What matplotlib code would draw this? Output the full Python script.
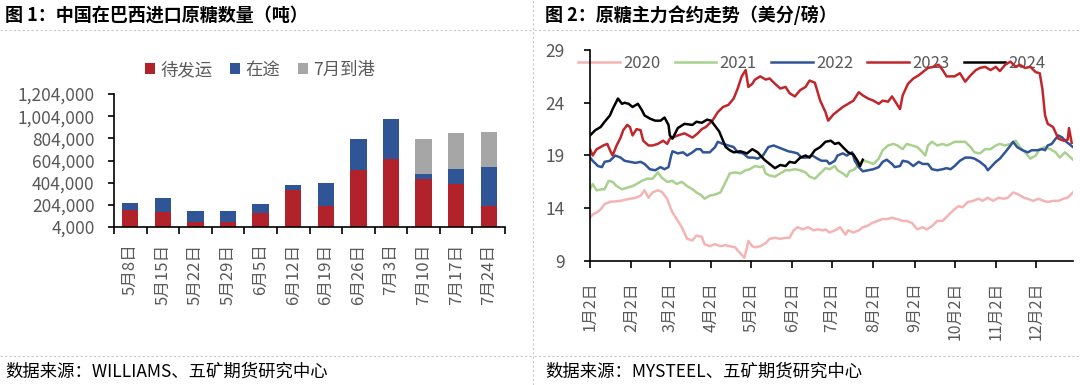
import numpy as np
import matplotlib
matplotlib.use('Agg')
import matplotlib.pyplot as plt
from matplotlib.lines import Line2D
from matplotlib.ticker import FuncFormatter

plt.rcParams['font.family'] = ['Noto Sans CJK SC', 'DejaVu Sans']

# 图1：中国在巴西进口原糖数量（吨）
weeks = ['5月8日', '5月15日', '5月22日', '5月29日', '6月5日', '6月12日',
         '6月19日', '6月26日', '7月3日', '7月10日', '7月17日', '7月24日']
pending = [155000, 137000, 52000, 52000, 128000, 336000,
           197000, 518000, 617000, 436000, 391000, 197000]   # 待发运
transit = [70000, 127000, 100000, 100000, 87000, 46000,
           203000, 281000, 357000, 45000, 136000, 348000]    # 在途
arrive_jul = [0, 0, 0, 0, 0, 0, 0, 0, 0, 318000, 329000, 320000]  # 7月到港

# 图2：原糖主力合约走势（美分/磅），横轴为距1月2日的天数
month_ticks = [0, 31, 60, 91, 121, 152, 182, 213, 244, 274, 305, 335]
month_labels = ['1月2日', '2月2日', '3月2日', '4月2日', '5月2日', '6月2日',
                '7月2日', '8月2日', '9月2日', '10月2日', '11月2日', '12月2日']

days_2020 = [0, 2, 5, 8, 11, 15, 19, 23, 26, 30,
             34, 38, 41, 44, 47, 51, 54, 58, 60, 62,
             65, 69, 73, 77, 80, 84, 86, 90, 94, 98,
             102, 105, 109, 111, 114, 116, 118, 119, 122, 124,
             128, 132, 135, 139, 143, 147, 150, 153, 156, 160,
             164, 168, 171, 175, 177, 180, 184, 188, 192, 194,
             198, 202, 205, 208, 212, 216, 220, 223, 227, 231,
             235, 238, 242, 246, 250, 253, 257, 261, 265, 269,
             273, 277, 280, 284, 288, 292, 295, 299, 303, 307,
             311, 314, 318, 322, 326, 329, 333, 337, 341, 344,
             348, 352, 356, 359, 363]
price_2020 = [13.1, 13.4, 13.6, 13.9, 14.4, 14.6, 14.65, 14.7, 14.8, 14.9,
              14.97, 15.2, 15.7, 15.0, 15.5, 15.7, 15.55, 14.9, 14.2, 13.6,
              13.0, 12.2, 11.1, 10.95, 11.4, 11.3, 10.6, 10.4, 10.6, 10.4,
              10.5, 10.4, 10.3, 10.0, 9.6, 9.3, 10.3, 10.9, 10.4, 10.3,
              10.4, 10.7, 11.1, 11.2, 11.1, 11.2, 11.2, 11.9, 12.2, 12.0,
              12.2, 11.9, 12.0, 11.9, 12.0, 11.7, 11.9, 12.2, 11.5, 11.9,
              11.7, 11.9, 12.2, 12.3, 12.6, 12.8, 12.97, 12.97, 13.1, 12.97,
              12.8, 12.8, 12.6, 12.0, 12.2, 12.0, 12.3, 12.8, 12.8, 13.3,
              13.8, 14.2, 14.1, 14.6, 14.7, 14.9, 14.7, 15.0, 14.7, 15.0,
              14.9, 15.0, 15.5, 15.3, 15.0, 14.9, 14.7, 14.9, 14.7, 14.6,
              14.7, 14.7, 14.9, 15.0, 15.5]

days_2021 = [0, 2, 5, 9, 11, 14, 17, 20, 24, 28,
             32, 35, 39, 43, 47, 49, 51, 54, 58, 62,
             65, 69, 73, 77, 80, 84, 86, 90, 94, 98,
             102, 105, 109, 113, 117, 120, 124, 128, 130, 132,
             135, 139, 143, 147, 150, 154, 158, 162, 165, 169,
             173, 177, 180, 184, 186, 190, 193, 195, 199, 202,
             205, 209, 213, 217, 220, 224, 228, 231, 235, 238,
             242, 246, 250, 252, 254, 257, 261, 265, 268, 271,
             274, 278, 282, 286, 289, 293, 297, 301, 305, 308,
             312, 316, 320, 323, 327, 331, 335, 338, 342, 346,
             350, 353, 357, 363]
price_2021 = [15.8, 16.3, 15.7, 15.8, 15.8, 16.6, 16.5, 16.1, 15.8, 15.95,
              16.1, 16.3, 16.6, 16.8, 16.8, 17.1, 17.4, 16.9, 16.5, 16.6,
              16.3, 16.5, 16.1, 15.8, 15.5, 15.2, 14.9, 15.2, 15.3, 15.5,
              16.5, 17.3, 17.4, 17.3, 17.6, 17.7, 18.0, 17.9, 18.0, 17.3,
              17.1, 17.0, 17.3, 17.6, 17.6, 17.7, 17.6, 17.4, 17.0, 16.8,
              17.3, 17.8, 17.7, 18.0, 17.6, 17.3, 17.0, 17.5, 17.7, 18.2,
              18.5, 18.4, 18.2, 18.7, 19.5, 19.95, 20.1, 19.95, 19.6, 20.1,
              19.95, 19.8, 19.3, 19.0, 19.95, 20.3, 19.95, 20.1, 19.95, 20.1,
              20.3, 20.3, 20.3, 19.8, 19.3, 19.2, 19.6, 19.6, 19.95, 20.1,
              19.95, 20.1, 20.4, 19.8, 19.3, 18.7, 19.0, 19.6, 19.8, 19.6,
              19.3, 18.8, 19.3, 18.6]

days_2022 = [0, 2, 6, 9, 11, 15, 19, 23, 26, 30,
             34, 38, 41, 45, 49, 53, 56, 59, 61, 62,
             66, 70, 73, 77, 80, 83, 85, 90, 94, 96,
             100, 104, 108, 111, 115, 119, 123, 126, 130, 134,
             138, 141, 145, 149, 153, 156, 159, 163, 167, 171,
             174, 178, 180, 184, 186, 190, 193, 197, 199, 202,
             205, 209, 213, 217, 220, 223, 227, 229, 233, 235,
             239, 243, 247, 250, 254, 257, 261, 265, 268, 271,
             274, 278, 282, 286, 289, 293, 297, 299, 302, 305,
             308, 312, 316, 318, 321, 325, 329, 332, 336, 340,
             342, 344, 347, 350, 352, 355, 357, 363]
price_2022 = [18.8, 18.5, 18.0, 17.9, 18.4, 18.5, 19.0, 18.8, 18.5, 18.4,
              18.3, 18.4, 18.2, 17.7, 17.6, 17.9, 17.7, 17.9, 19.0, 19.4,
              19.2, 19.3, 19.0, 19.3, 19.6, 19.6, 19.3, 19.3, 19.8, 20.3,
              20.1, 19.95, 19.8, 19.3, 19.2, 18.8, 18.8, 18.7, 19.0, 19.8,
              19.95, 19.8, 19.6, 19.4, 19.3, 19.2, 18.8, 18.8, 19.0, 18.7,
              18.5, 18.5, 18.2, 18.5, 19.0, 19.2, 19.0, 19.3, 18.5, 17.9,
              17.5, 17.6, 17.7, 17.9, 18.4, 18.6, 18.2, 17.9, 18.0, 18.5,
              18.4, 18.0, 18.4, 18.2, 18.2, 17.7, 17.6, 17.7, 17.8, 17.7,
              18.0, 18.5, 18.8, 18.8, 18.7, 18.4, 18.0, 17.6, 18.0, 18.4,
              18.7, 19.3, 19.95, 20.3, 19.8, 19.5, 19.3, 19.5, 19.5, 19.6,
              19.5, 19.95, 20.1, 20.6, 20.9, 20.7, 20.4, 19.8]

days_2023 = [0, 2, 5, 8, 10, 13, 15, 17, 20, 23,
             25, 28, 30, 32, 35, 38, 40, 44, 47, 51,
             55, 58, 60, 62, 66, 71, 77, 81, 84, 87,
             92, 96, 100, 104, 108, 111, 114, 117, 119, 122,
             124, 128, 132, 135, 139, 143, 147, 150, 154, 158,
             162, 165, 169, 173, 177, 179, 183, 187, 190, 194,
             198, 202, 205, 209, 213, 217, 220, 224, 227, 231,
             233, 235, 239, 243, 247, 250, 254, 258, 262, 265,
             268, 271, 274, 278, 282, 286, 290, 293, 297, 301,
             305, 308, 312, 316, 320, 323, 327, 331, 335, 338,
             340, 342, 344, 348, 352, 356, 359, 360, 362]
price_2023 = [19.6, 19.0, 19.6, 19.8, 19.95, 20.1, 19.5, 19.0, 19.95, 20.7,
              21.4, 21.9, 21.7, 20.9, 21.5, 21.4, 20.4, 19.95, 19.95, 20.1,
              20.4, 20.1, 20.6, 20.7, 20.9, 21.1, 20.7, 21.1, 21.5, 21.7,
              22.3, 23.1, 23.6, 23.8, 24.4, 25.35, 26.5, 27.1, 25.5, 25.8,
              26.2, 26.5, 26.2, 26.3, 25.8, 25.35, 25.5, 24.9, 24.6, 25.2,
              25.5, 26.1, 25.9, 24.2, 23.1, 22.3, 22.9, 23.3, 23.6, 23.9,
              24.2, 25.0, 24.7, 24.4, 24.2, 23.9, 24.2, 24.1, 24.6, 23.8,
              23.4, 24.7, 25.8, 26.3, 26.6, 26.9, 27.3, 27.4, 27.6, 27.1,
              26.5, 26.5, 26.5, 26.8, 26.0, 26.6, 27.1, 27.3, 27.4, 27.1,
              27.4, 27.0, 27.6, 27.9, 27.4, 27.6, 27.3, 27.4, 26.9, 26.8,
              25.3, 22.8, 22.0, 21.7, 20.6, 20.4, 20.5, 21.6, 20.2]

days_2024 = [0, 4, 8, 11, 15, 17, 21, 24, 26, 29,
             32, 36, 39, 41, 45, 49, 53, 56, 59, 60,
             62, 66, 71, 77, 80, 84, 88, 91, 94, 97,
             100, 102, 105, 108, 113, 118, 122, 126, 131, 135,
             139, 143, 147, 150, 154, 158, 162, 165, 169, 173,
             177, 181, 184, 187, 190, 194, 198, 201, 203, 205]
price_2024 = [20.9, 21.4, 21.7, 22.2, 22.8, 23.4, 24.4, 23.9, 24.0, 23.9,
              23.6, 23.9, 23.3, 22.8, 22.5, 22.3, 22.3, 22.6, 21.9, 20.9,
              20.6, 21.6, 22.0, 21.9, 22.2, 22.1, 22.4, 22.3, 21.8, 21.3,
              20.4, 19.8, 19.5, 19.3, 19.4, 19.2, 19.6, 19.3, 18.6, 18.2,
              17.8, 18.1, 18.0, 18.4, 18.3, 18.8, 19.0, 18.8, 19.5, 19.8,
              20.3, 20.4, 20.1, 20.2, 19.8, 19.3, 19.1, 18.5, 18.0, 18.6]

W, H = 1080, 385
fig = plt.figure(figsize=(10.8, 3.85), dpi=100)
tick_grey = '#595959'
sep = '#c8c8c8'


def fx(px):
    return px / W


def fy(py):
    return 1 - py / H


# 分隔线
for y in (30, 356):
    fig.add_artist(Line2D([0, fx(533)], [fy(y), fy(y)], transform=fig.transFigure,
                          color=sep, lw=0.8, ls=(0, (2, 2))))
    fig.add_artist(Line2D([fx(534), 1], [fy(y), fy(y)], transform=fig.transFigure,
                          color=sep, lw=0.8, ls=(0, (2, 2))))
fig.add_artist(Line2D([fx(533), fx(533)], [0, 1], transform=fig.transFigure,
                      color=sep, lw=0.8, ls=(0, (2, 2))))

fig.text(fx(5), fy(15), '图 1：中国在巴西进口原糖数量（吨）', fontsize=13,
         fontweight='bold', va='center', ha='left')
fig.text(fx(545), fy(15), '图 2：原糖主力合约走势（美分/磅）', fontsize=13,
         fontweight='bold', va='center', ha='left')
fig.text(fx(5), fy(372), '数据来源：WILLIAMS、五矿期货研究中心', fontsize=12.5,
         va='center', ha='left')
fig.text(fx(545), fy(372), '数据来源：MYSTEEL、五矿期货研究中心', fontsize=12.5,
         va='center', ha='left')

# 图1 柱状图
ax1 = fig.add_axes([fx(114), fy(227), fx(505 - 114), (227 - 94) / H])
x = np.arange(len(weeks))
p = np.array(pending)
t = np.array(transit)
b1 = ax1.bar(x, p, 0.5, color='#B2222A', label='待发运', zorder=2)
b2 = ax1.bar(x, t, 0.5, bottom=p, color='#2F5597', label='在途', zorder=2)
b3 = ax1.bar(x, arrive_jul, 0.5, bottom=p + t, color='#A6A6A6', label='7月到港', zorder=2)
ax1.set_xlim(-0.5, len(weeks) - 0.5)
ax1.set_ylim(4000, 1204000)
ax1.set_yticks(np.arange(4000, 1204001, 200000))
ax1.yaxis.set_major_formatter(FuncFormatter(lambda v, pos: f'{v:,.0f}'))
ax1.set_xticks(np.arange(-0.5, len(weeks), 1))
ax1.set_xticklabels([])
ax1.set_xticks(x, weeks, minor=True)
ax1.tick_params(axis='x', which='major', length=5, width=1.2, direction='out')
ax1.tick_params(axis='x', which='minor', length=0, labelrotation=90,
                labelsize=12, labelcolor=tick_grey, pad=12)
ax1.tick_params(axis='y', length=4, width=1.2, direction='out',
                labelsize=12.5, labelcolor=tick_grey, pad=10)
for s in ('top', 'right'):
    ax1.spines[s].set_visible(False)
for s in ('left', 'bottom'):
    ax1.spines[s].set_linewidth(1.2)
ax1.legend(handles=[b1, b2, b3], loc='center', bbox_to_anchor=(fx(260), fy(70)),
           bbox_transform=fig.transFigure, ncol=3, frameon=False, fontsize=12.5,
           labelcolor=tick_grey, handlelength=0.6, handleheight=0.6,
           handletextpad=0.3, columnspacing=1.0)

# 图2 折线图
ax2 = fig.add_axes([fx(590), fy(261), fx(1073 - 590), (261 - 50) / H])
ax2.plot(days_2020, price_2020, color='#F4B4B4', lw=1.8, label='2020')
ax2.plot(days_2021, price_2021, color='#A9D18E', lw=1.8, label='2021')
ax2.plot(days_2022, price_2022, color='#2F5597', lw=1.8, label='2022')
ax2.plot(days_2023, price_2023, color='#C0272D', lw=1.8, label='2023')
ax2.plot(days_2024, price_2024, color='#000000', lw=1.8, label='2024')
ax2.set_xlim(0, 363)
ax2.set_ylim(9, 29)
ax2.set_yticks([9, 14, 19, 24, 29])
ax2.set_xticks(month_ticks, month_labels)
ax2.tick_params(axis='x', length=5, width=1.2, direction='out', labelrotation=90,
                labelsize=11.5, labelcolor=tick_grey, pad=10)
ax2.tick_params(axis='y', length=4, width=1.2, direction='out',
                labelsize=12.5, labelcolor=tick_grey, pad=14)
for s in ('top', 'right'):
    ax2.spines[s].set_visible(False)
for s in ('left', 'bottom'):
    ax2.spines[s].set_linewidth(1.2)
leg = ax2.legend(loc='center', bbox_to_anchor=((812 - 590) / (1073 - 590), (261 - 63) / 211),
                 ncol=5, frameon=False, fontsize=12, labelcolor=tick_grey,
                 handlelength=2.5, handletextpad=0.2, columnspacing=0.85)
leg.set_zorder(1)

fig.savefig('out.png', dpi=100)
